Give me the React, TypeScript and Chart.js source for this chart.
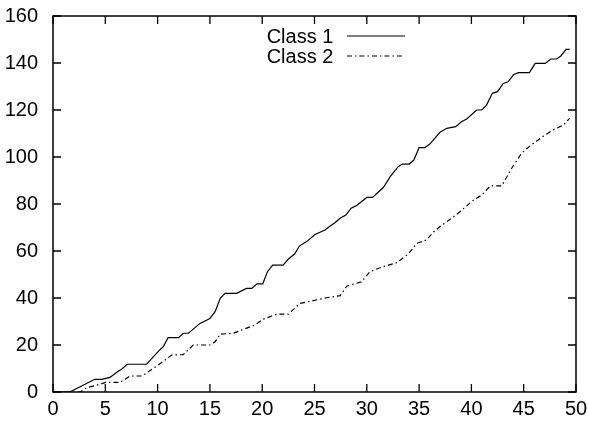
import React, { useEffect, useRef } from "react";
import { Chart, registerables } from "chart.js";

Chart.register(...registerables);

const xTicks = [0, 5, 10, 15, 20, 25, 30, 35, 40, 45, 50];
const yTicks = [0, 20, 40, 60, 80, 100, 120, 140, 160];

const seriesNames = ["Class 1", "Class 2"];

const class1X = [0, 1.6, 4.0, 4.65, 5.45, 6.1, 6.55, 7.1, 8.95, 10.2, 10.55, 11.0, 12.0, 12.45, 12.95, 14.05, 15.0, 15.5, 16.0, 16.45, 17.55, 18.5, 19.0, 19.5, 20.05, 20.5, 21.0, 22.0, 22.5, 23.1, 23.55, 24.25, 25.05, 26.0, 26.5, 26.95, 27.45, 28.0, 28.5, 29.0, 30.0, 30.55, 31.6, 32.2, 33.0, 33.4, 34.05, 34.5, 35.0, 35.55, 36.0, 37.0, 37.65, 38.5, 39.05, 39.55, 40.5, 41.0, 41.45, 42.0, 42.5, 43.05, 43.5, 44.05, 44.5, 45.55, 46.1, 47.05, 47.6, 48.15, 48.55, 49.05, 49.4];
const class1Y = [0, 0, 5.4, 5.4, 6.2, 8.4, 9.7, 11.8, 11.8, 17.9, 19.3, 23.1, 23.1, 25, 25, 29.2, 31.3, 34.2, 40, 42, 42, 44.1, 44.1, 46, 46, 51.2, 54, 54, 56.6, 58.7, 62.1, 64, 67, 68.9, 70.6, 72, 73.9, 75.3, 78.2, 79.3, 82.8, 82.8, 87.1, 91.4, 95.9, 97, 97, 98.7, 104, 104, 105.4, 110.5, 112.2, 112.9, 115, 116.2, 120, 120, 122.1, 127.1, 127.8, 131.3, 132, 135.1, 135.9, 135.9, 139.8, 139.8, 141.7, 141.7, 143, 145.8, 145.8];

const class2X = [0, 2.6, 3.2, 4.5, 5.0, 6.4, 7.36, 8.5, 9.6, 10.07, 11.35, 12.45, 13.4, 15.0, 15.5, 16.0, 17.25, 18.05, 19.3, 20.05, 21.4, 22.5, 23.6, 24.7, 26.15, 27.45, 28.1, 29.5, 30.3, 31.4, 32.85, 33.95, 34.8, 35.7, 36.4, 37.0, 38.3, 38.9, 40.2, 41.0, 41.8, 42.9, 43.85, 44.8, 45.6, 46.9, 47.8, 48.8, 49.4];
const class2Y = [0, 0, 1.8, 3.3, 4.1, 4.1, 6.8, 6.8, 10.1, 11.5, 15.7, 15.9, 20, 20, 21.4, 24.6, 25, 26.4, 28.5, 30.9, 33.1, 33.1, 37.7, 38.7, 40.1, 41, 45.1, 46.9, 51.2, 53.1, 55, 58.7, 63.3, 64.7, 68.2, 70.4, 74.6, 76.7, 81.7, 83.8, 87.7, 87.7, 95.2, 101.6, 104.7, 108.9, 111.5, 113.6, 116.5];

const FONT = "'Liberation Sans', Arial, Helvetica, sans-serif";
const FONT_SIZE = 20;

const framePlugin = {
  id: "gnuplotFrame",
  afterDraw(chart: any) {
    const { ctx, chartArea, scales } = chart;
    const { left, right, top, bottom } = chartArea;
    const tl = 8;
    ctx.save();
    ctx.strokeStyle = "#000";
    ctx.lineWidth = 1.5;
    ctx.beginPath();
    ctx.rect(left, top, right - left, bottom - top);
    ctx.stroke();
    ctx.lineWidth = 1.3;
    ctx.beginPath();
    for (const v of xTicks) {
      const px = scales.x.getPixelForValue(v);
      ctx.moveTo(px, bottom);
      ctx.lineTo(px, bottom - tl);
      ctx.moveTo(px, top);
      ctx.lineTo(px, top + tl);
    }
    for (const v of yTicks) {
      const py = scales.y.getPixelForValue(v);
      ctx.moveTo(left, py);
      ctx.lineTo(left + tl, py);
      ctx.moveTo(right, py);
      ctx.lineTo(right - tl, py);
    }
    ctx.stroke();

    // legend (gnuplot style: text right-aligned, sample line to the right)
    const textRight = scales.x.getPixelForValue(26.8);
    const lineStart = scales.x.getPixelForValue(28.1);
    const lineEnd = scales.x.getPixelForValue(33.65);
    ctx.font = `${FONT_SIZE}px ${FONT}`;
    ctx.fillStyle = "#000";
    ctx.textAlign = "right";
    ctx.textBaseline = "middle";
    chart.data.datasets.forEach((ds: any, i: number) => {
      const y = top + 20 + i * 20;
      ctx.fillText(ds.label, textRight, y + 1);
      ctx.save();
      ctx.strokeStyle = ds.borderColor;
      ctx.lineWidth = ds.borderWidth;
      ctx.setLineDash(ds.borderDash || []);
      ctx.beginPath();
      ctx.moveTo(lineStart, y);
      ctx.lineTo(lineEnd, y);
      ctx.stroke();
      ctx.restore();
    });
    ctx.restore();
  },
};

export default function App() {
  const ref = useRef<HTMLCanvasElement>(null);
  useEffect(() => {
    const canvas = ref.current;
    if (!canvas) return;
    const chart = new Chart(canvas, {
      type: "line",
      data: {
        datasets: [
          {
            label: seriesNames[0],
            data: class1X.map((x, i) => ({ x, y: class1Y[i] })),
            borderColor: "#000",
            borderWidth: 1.2,
            pointRadius: 0,
            tension: 0,
            fill: false,
          },
          {
            label: seriesNames[1],
            data: class2X.map((x, i) => ({ x, y: class2Y[i] })),
            borderColor: "#000",
            borderWidth: 1.2,
            borderDash: [5, 3, 1.5, 3],
            pointRadius: 0,
            tension: 0,
            fill: false,
          },
        ],
      },
      options: {
        responsive: false,
        animation: false,
        layout: { padding: { left: 0, right: 13, top: 16, bottom: 0 } },
        plugins: { legend: { display: false }, tooltip: { enabled: false } },
        scales: {
          x: {
            type: "linear",
            min: 0,
            max: 50,
            afterBuildTicks: (scale: any) => {
              scale.ticks = xTicks.map((v) => ({ value: v }));
            },
            grid: { display: false, drawTicks: false },
            border: { display: false },
            ticks: {
              color: "#000",
              padding: 5,
              maxRotation: 0,
              autoSkip: false,
              font: { family: FONT, size: FONT_SIZE },
            },
            afterFit: (scale: any) => {
              scale.height = 33;
              scale.paddingLeft = 0;
              scale.paddingRight = 0;
            },
          },
          y: {
            type: "linear",
            min: 0,
            max: 160,
            afterBuildTicks: (scale: any) => {
              scale.ticks = yTicks.map((v) => ({ value: v }));
            },
            grid: { display: false, drawTicks: false },
            border: { display: false },
            ticks: {
              color: "#000",
              padding: 15,
              autoSkip: false,
              font: { family: FONT, size: FONT_SIZE },
            },
            afterFit: (scale: any) => {
              scale.width = 53;
              scale.paddingTop = 0;
              scale.paddingBottom = 0;
            },
          },
        },
      },
      plugins: [framePlugin],
    });
    return () => chart.destroy();
  }, []);
  return (
    <div style={{ position: "fixed", left: 0, top: 0, width: 589, height: 425, background: "#fff" }}>
      <canvas ref={ref} width={589} height={425} style={{ display: "block" }} />
    </div>
  );
}
